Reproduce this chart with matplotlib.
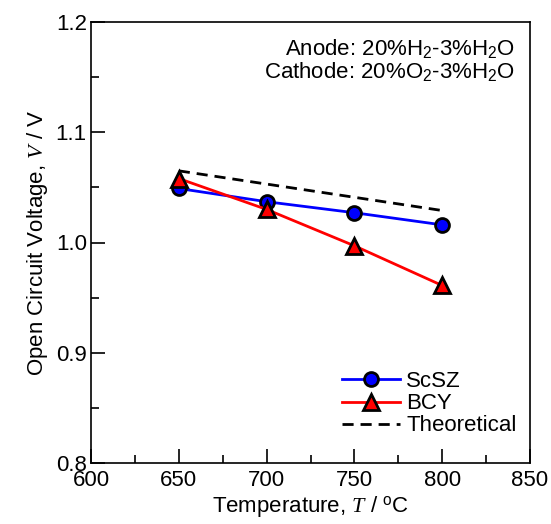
import numpy as np
import matplotlib.pyplot as plt
from matplotlib.ticker import MultipleLocator

plt.rcParams['font.family'] = ['Liberation Sans', 'DejaVu Sans']
plt.rcParams['mathtext.fontset'] = 'custom'
plt.rcParams['mathtext.rm'] = 'Liberation Sans'
plt.rcParams['mathtext.it'] = 'Liberation Serif:italic'

# data
temp = [650, 700, 750, 800]
ocv_scsz = [1.049, 1.037, 1.027, 1.016]
ocv_bcy = [1.058, 1.030, 0.997, 0.961]
temp_theo = [650, 800]
ocv_theo = [1.065, 1.029]

fig = plt.figure(figsize=(5.51, 5.24), dpi=100)
ax = fig.add_axes([91 / 551, 1 - 463 / 524, 439 / 551, 441 / 524])

ax.plot(temp, ocv_scsz, color='blue', lw=2, marker='o', ms=10,
        mfc='blue', mec='black', mew=2, label='ScSZ', zorder=3)
ax.plot(temp, ocv_bcy, color='red', lw=2, marker='^', ms=11,
        mfc='red', mec='black', mew=2, label='BCY', zorder=3)
ax.plot(temp_theo, ocv_theo, color='black', lw=2, ls=(0, (4, 2.5)),
        label='Theoretical', zorder=2)

ax.set_xlim(600, 850)
ax.set_ylim(0.8, 1.2)
ax.xaxis.set_major_locator(MultipleLocator(50))
ax.xaxis.set_minor_locator(MultipleLocator(25))
ax.yaxis.set_major_locator(MultipleLocator(0.1))
ax.yaxis.set_minor_locator(MultipleLocator(0.05))
ax.tick_params(which='both', direction='in', labelsize=16, width=1.2)
ax.tick_params(which='major', length=10)
ax.tick_params(which='minor', length=6)
ax.tick_params(axis='x', pad=5)
ax.tick_params(axis='y', pad=3)
for s in ax.spines.values():
    s.set_linewidth(1.2)

ax.set_xlabel('Temperature, $T$ / $^{\\mathrm{o}}$C', fontsize=16, labelpad=2)
ax.set_ylabel('Open Circuit Voltage, $V$ / V', fontsize=16, labelpad=4)

ax.text(0.965, 0.965, 'Anode: 20%H$_2$-3%H$_2$O\nCathode: 20%O$_2$-3%H$_2$O',
        transform=ax.transAxes, ha='right', va='top', fontsize=16,
        linespacing=0.95)

ax.legend(loc='lower right', bbox_to_anchor=(1.0, 0.03), frameon=False,
          fontsize=16, handlelength=2.6, handletextpad=0.3, labelspacing=0.05,
          borderaxespad=0.2)

fig.savefig('out.png', dpi=100)
